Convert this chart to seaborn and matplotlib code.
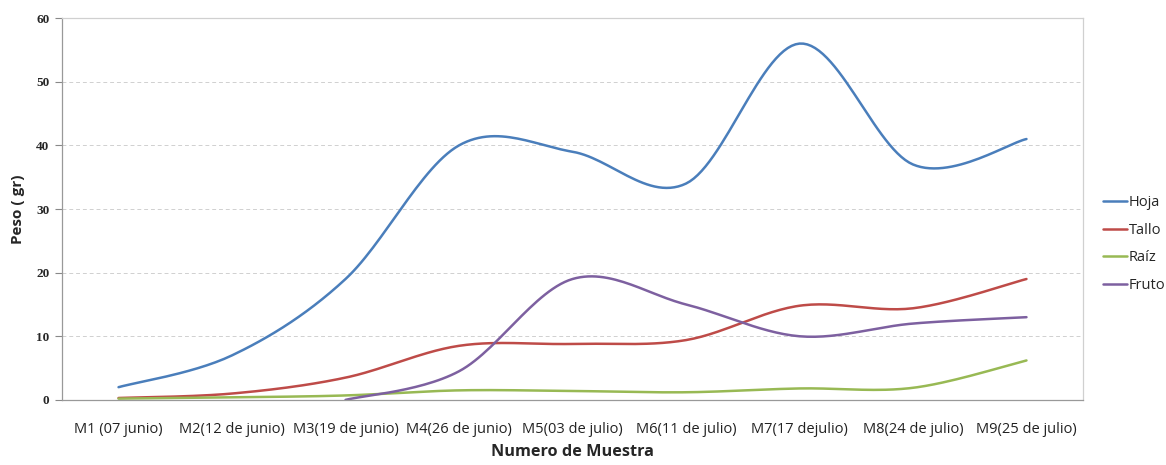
"""
Peso por organo de la planta a lo largo de los muestreos
"""

import numpy as np
import pandas as pd
import matplotlib
matplotlib.use('Agg')
import matplotlib.pyplot as plt
import seaborn as sns

# Muestras (eje x)
MUESTRAS = [
    'M1 (07 junio)', 'M2(12 de junio)', 'M3(19 de junio)', 'M4(26 de junio)',
    'M5(03 de julio)', 'M6(11 de julio)', 'M7(17 dejulio)', 'M8(24 de julio)',
    'M9(25 de julio)'
]

# Peso (gr) por organo
hoja = [2, 7, 19, 40, 39, 34, 56, 37, 41]
tallo = [0.3, 1.0, 3.5, 8.5, 8.8, 9.4, 14.8, 14.4, 19]
raiz = [0.2, 0.4, 0.7, 1.5, 1.4, 1.2, 1.8, 1.9, 6.2]
fruto = [np.nan, np.nan, 0, 4.5, 19, 15, 10, 12, 13]

SERIES = ['Hoja', 'Tallo', 'Raíz', 'Fruto']
COLORS = ['#4A7EBB', '#BE4B48', '#98B954', '#7D60A0']


def smooth(x, y, n=30):
    """Curva suavizada tipo Excel (Catmull-Rom) entre los puntos."""
    x = np.asarray(x, float)
    y = np.asarray(y, float)
    ok = ~np.isnan(y)
    x, y = x[ok], y[ok]
    px = np.concatenate([[x[0]], x, [x[-1]]])
    py = np.concatenate([[y[0]], y, [y[-1]]])
    xs, ys = [], []
    t = np.linspace(0, 1, n)
    for i in range(1, len(px) - 2):
        for p, out in ((px, xs), (py, ys)):
            p0, p1, p2, p3 = p[i - 1], p[i], p[i + 1], p[i + 2]
            c1 = p1 + (p2 - p0) / 6
            c2 = p2 - (p3 - p1) / 6
            out.append((1 - t) ** 3 * p1 + 3 * (1 - t) ** 2 * t * c1
                       + 3 * (1 - t) * t ** 2 * c2 + t ** 3 * p2)
    return np.concatenate(xs), np.concatenate(ys)


sns.set_style('white')
plt.rcParams['font.family'] = ['Open Sans', 'DejaVu Sans']

fig, ax = plt.subplots(figsize=(11.66, 4.65), dpi=100)
fig.subplots_adjust(left=0.053, right=0.929, top=0.961, bottom=0.14)

pos = np.arange(len(MUESTRAS))
frames = []
for name, vals in zip(SERIES, [hoja, tallo, raiz, fruto]):
    sx, sy = smooth(pos, vals)
    frames.append(pd.DataFrame({'x': sx, 'peso': sy, 'organo': name}))
df = pd.concat(frames, ignore_index=True)

sns.lineplot(data=df, x='x', y='peso', hue='organo', hue_order=SERIES,
             palette=COLORS, sort=False, estimator=None, linewidth=1.8, ax=ax)

ax.set_xlim(-0.5, len(MUESTRAS) - 0.5)
ax.set_ylim(0, 60)
ax.set_yticks(range(0, 61, 10))
ax.set_yticklabels([str(v) for v in range(0, 61, 10)],
                   family='Liberation Serif', fontsize=9.5, fontweight='bold')
ax.set_xticks(pos)
ax.set_xticklabels(MUESTRAS, fontsize=10.5, color='#222222')
ax.set_xticks(np.arange(-0.5, len(MUESTRAS)), minor=True)
ax.tick_params(axis='x', which='major', length=0, pad=16)
ax.tick_params(axis='x', which='minor', length=5, color='#888888')
ax.tick_params(axis='y', length=5, color='#888888', left=True, pad=4)

for v in range(10, 60, 10):
    ax.axhline(v, color='#d0d0d0', linestyle=(0, (4, 3)), linewidth=0.7, zorder=0)

for side in ['left', 'bottom', 'top', 'right']:
    ax.spines[side].set_color('#999999')
    ax.spines[side].set_linewidth(0.9)
ax.spines['top'].set_color('#d0d0d0')
ax.spines['right'].set_color('#d0d0d0')

ax.set_xlabel('Numero de Muestra', fontsize=11.7, fontweight='bold', labelpad=5)
ax.set_ylabel('Peso ( gr)', fontsize=11, fontweight='bold', labelpad=8)

leg = ax.legend(loc='center left', bbox_to_anchor=(1.0196, 0.408), frameon=False,
                fontsize=10.5, handlelength=1.6, handletextpad=0.15,
                labelspacing=0.87, borderpad=0, borderaxespad=0, title=None)
for line in leg.get_lines():
    line.set_linewidth(1.8)

plt.savefig('out.png', dpi=100)
